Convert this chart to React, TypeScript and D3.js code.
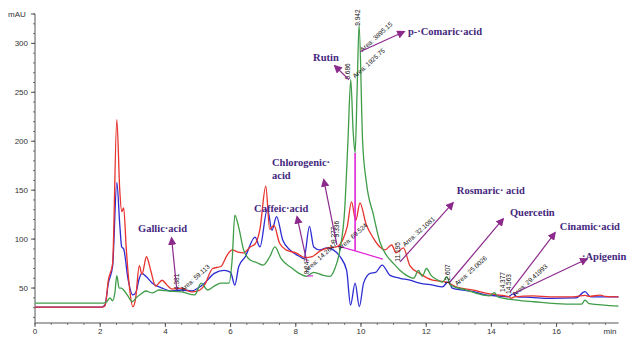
import React from 'react';
import * as d3 from 'd3';

// chromatogram traces, [time (min), signal (mAU)]
const redTrace: [number, number][] = [
  [0, 30.5], [2.05, 30.5], [2.15, 32], [2.25, 58], [2.38, 75], [2.51, 222], [2.6, 150], [2.66, 128],
  [2.72, 132], [2.8, 90], [2.9, 50], [3.0, 31], [3.08, 38], [3.2, 73], [3.28, 64], [3.42, 82],
  [3.55, 68], [3.7, 52], [3.9, 58], [4.05, 53], [4.2, 49], [4.5, 50], [4.8, 46], [5.0, 47],
  [5.2, 53], [5.45, 70], [5.7, 72], [5.9, 84], [6.05, 89], [6.2, 87], [6.4, 86], [6.6, 92],
  [6.75, 95], [6.9, 110], [7.08, 154], [7.2, 110], [7.33, 114], [7.5, 96], [7.7, 89], [8.0, 86],
  [8.3, 81], [8.5, 82], [8.75, 88], [9.0, 91], [9.25, 92], [9.45, 100], [9.58, 113], [9.71, 138],
  [9.84, 119], [9.97, 137], [10.15, 116], [10.38, 101], [10.58, 92], [10.74, 89], [10.94, 94],
  [11.08, 86], [11.3, 91], [11.5, 73], [11.8, 65], [12.2, 58], [12.63, 56], [12.94, 51],
  [13.45, 48], [13.86, 44.6], [14.26, 42.8], [14.55, 41], [14.62, 39.5], [14.7, 41], [15.28, 42],
  [15.8, 41], [16.5, 41], [16.87, 42.5], [17.0, 41.5], [17.33, 42.8], [17.5, 41.5], [17.9, 41],
];

const blueTrace: [number, number][] = [
  [0, 30.5], [2.05, 30.5], [2.15, 33], [2.25, 55], [2.38, 72], [2.51, 158], [2.6, 115], [2.66, 92],
  [2.72, 90], [2.85, 60], [3.0, 43], [3.1, 46], [3.2, 60], [3.28, 65], [3.4, 62], [3.6, 55],
  [3.9, 50], [4.2, 47], [4.5, 48], [4.8, 47], [5.0, 50], [5.2, 55], [5.5, 65], [5.8, 68],
  [6.0, 66], [6.13, 53], [6.25, 72], [6.45, 82], [6.75, 102], [6.9, 92], [7.13, 131], [7.27, 109],
  [7.41, 123], [7.6, 99], [7.82, 89], [8.13, 82], [8.25, 80], [8.42, 113], [8.55, 92], [8.74, 89],
  [8.95, 91], [9.15, 89], [9.36, 82], [9.56, 68], [9.68, 32.6], [9.82, 55], [9.95, 31], [10.08, 55],
  [10.28, 65], [10.45, 66], [10.65, 73.5], [10.89, 63], [11.2, 60], [11.5, 58], [11.8, 55],
  [12.2, 53], [12.5, 51.3], [12.68, 56.5], [12.8, 50], [13.45, 46.3], [13.86, 42.8], [14.26, 41.8],
  [14.5, 41], [14.67, 44], [14.8, 41], [15.2, 40.5], [15.8, 39.5], [16.6, 40], [16.87, 46.3],
  [17.05, 41], [17.9, 41],
];

const greenTrace: [number, number][] = [
  [0, 34.7], [2.1, 34.7], [2.2, 36], [2.3, 40], [2.38, 37], [2.45, 45], [2.51, 62.6], [2.58, 50],
  [2.65, 50], [2.72, 48], [2.85, 42], [2.98, 36], [3.1, 40], [3.25, 44], [3.4, 47], [3.6, 45],
  [3.8, 48], [4.1, 47], [4.5, 46], [4.9, 43], [5.1, 55], [5.3, 48], [5.5, 52], [5.7, 55],
  [5.95, 55], [6.05, 80], [6.13, 124.6], [6.25, 112], [6.4, 89], [6.6, 78.6], [6.8, 76], [7.0, 73.5],
  [7.2, 82], [7.36, 92], [7.55, 80], [7.9, 70], [8.1, 65], [8.33, 62], [8.55, 66], [8.84, 63],
  [9.05, 62], [9.2, 70], [9.36, 90], [9.5, 130], [9.6, 200], [9.686, 263], [9.76, 210], [9.82, 188],
  [9.88, 250], [9.942, 319], [10.05, 200], [10.17, 157], [10.38, 125], [10.58, 97], [10.79, 83],
  [11.0, 75], [11.2, 68], [11.45, 62], [11.62, 60], [11.76, 68], [11.88, 62], [12.01, 70],
  [12.15, 63], [12.37, 58], [12.5, 56], [12.63, 61.6], [12.75, 53], [13.24, 48], [13.75, 42.8],
  [13.95, 42], [14.09, 45.3], [14.2, 41], [14.78, 37.7], [15.3, 36], [16.3, 33.6], [16.77, 33.6],
  [16.87, 37.7], [17.0, 34], [17.9, 31.6],
];

// integration baseline + drop line (magenta)
const baseLine: [number, number][] = [[9.29, 93], [9.82, 88], [10.67, 79.6]];
const dropLine: [number, number][] = [[9.82, 88], [9.82, 188]];
const caffeicBase: [number, number][] = [[8.34, 62.4], [8.53, 62.4]];

// compound annotations
const compoundNames = [
  ['Gallic·acid'], ['Caffeic·acid'], ['Chlorogenic·', 'acid'], ['Rutin'], ['p-·Comaric·acid'],
  ['Rosmaric· acid'], ['Quercetin'], ['Cinamic·acid'], ['·Apigenin'],
];
const namePos: [number, number][] = [
  [3.16, 107], [6.72, 127.5], [7.27, 174.5], [8.53, 282], [11.44, 308.5],
  [12.94, 146], [14.57, 123.5], [16.1, 109], [16.78, 78.5],
];
const arrowFrom: [number, number][] = [
  [4.35, 48], [8.34, 76.7], [9.26, 94], [9.63, 262.8], [9.97, 291.4],
  [11.2, 76.7], [12.73, 56.2], [14.57, 46], [14.66, 44],
];
const arrowTo: [number, number][] = [
  [4.19, 101], [8.04, 122.7], [8.86, 160.5], [9.2, 277], [11.32, 311.8],
  [12.82, 137], [14.36, 120.6], [15.95, 106.3], [16.93, 79.7],
];

// retention time labels (vertical) and area labels (slanted)
const rtLabels = ['4.381', '8.247', '9.277', '9.336', '9.686', '9.942', '11.195', '12.607', '14.377', '14.563'];
const rtPos: [number, number][] = [
  [4.42, 48], [8.4, 64], [9.24, 96], [9.34, 102], [9.66, 263], [9.97, 318],
  [11.2, 77], [12.73, 54], [14.42, 46], [14.6, 44],
];
const areaLabels = ['Area: 59.113', 'Area: 14.2647', 'Area: 69.524', 'Area: 1925.75', 'Area: 3895.15',
  'Area: 32.1081', 'Area: 25.0026', 'Area: 29.41993'];
const areaPos: [number, number][] = [
  [4.54, 46], [8.34, 66], [9.36, 88], [9.82, 264], [10.05, 291],
  [11.35, 92], [12.95, 52], [14.72, 41],
];

const xMajor = [0, 2, 4, 6, 8, 10, 12, 14, 16];
const yMajor = [50, 100, 150, 200, 250, 300];

const RED = '#e8332e';
const BLUE = '#2c2cd4';
const GREEN = '#3f9d48';
const MAGENTA = '#e024d8';
const NAME = '#45287e';
const ARROW = '#8c2a8c';

export default function App() {
  const x = d3.scaleLinear().domain([0, 17.9]).range([35, 618.5]);
  const y = d3.scaleLinear().domain([14.3, 330]).range([323, 14]);

  const trace = d3.line<[number, number]>()
    .x(d => x(d[0]))
    .y(d => y(d[1]))
    .curve(d3.curveMonotoneX);
  const straight = d3.line<[number, number]>().x(d => x(d[0])).y(d => y(d[1]));

  const xMinor = d3.range(0, 17.9, 0.5);
  const yMinor = d3.range(20, 331, 10);

  return (
    <svg width={638} height={337} style={{ position: 'absolute', left: 0, top: 0, background: '#fff' }}
      fontFamily="Liberation Sans, Arial, sans-serif">
      <defs>
        <marker id="head" viewBox="0 0 10 10" refX="8" refY="5" markerWidth="7" markerHeight="7" orient="auto">
          <path d="M0,0 L10,5 L0,10 z" fill={ARROW} />
        </marker>
      </defs>

      {/* axes */}
      <line x1={x(0)} x2={x(0)} y1={y(330)} y2={y(14.3)} stroke="#555" strokeWidth={1} />
      <line x1={x(0)} x2={x(17.9)} y1={y(14.3)} y2={y(14.3)} stroke="#555" strokeWidth={1} />
      {yMinor.map(v => (
        <line key={'ym' + v} x1={x(0) - 2} x2={x(0)} y1={y(v)} y2={y(v)} stroke="#555" strokeWidth={0.8} />
      ))}
      {yMajor.map(v => (
        <g key={'y' + v}>
          <line x1={x(0) - 4} x2={x(0)} y1={y(v)} y2={y(v)} stroke="#555" />
          <text x={28} y={y(v) + 3} fontSize={8} textAnchor="end" fill="#333">{v}</text>
        </g>
      ))}
      <line x1={x(0) - 4} x2={x(0)} y1={y(330)} y2={y(330)} stroke="#555" />
      <text x={8} y={y(330) + 3} fontSize={8} fill="#333">mAU</text>
      {xMinor.map(t => (
        <line key={'xm' + t} x1={x(t)} x2={x(t)} y1={y(14.3)} y2={y(14.3) + 2} stroke="#555" strokeWidth={0.8} />
      ))}
      {xMajor.map(t => (
        <g key={'x' + t}>
          <line x1={x(t)} x2={x(t)} y1={y(14.3)} y2={y(14.3) + 4} stroke="#555" />
          <text x={x(t)} y={334} fontSize={8} textAnchor="middle" fill="#333">{t}</text>
        </g>
      ))}
      <text x={610} y={334} fontSize={8} textAnchor="middle" fill="#333">min</text>

      {/* traces */}
      <path d={trace(blueTrace) ?? ''} fill="none" stroke={BLUE} strokeWidth={1.3} />
      <path d={trace(redTrace) ?? ''} fill="none" stroke={RED} strokeWidth={1.3} />
      <path d={trace(greenTrace) ?? ''} fill="none" stroke={GREEN} strokeWidth={1.3} />

      {/* integration marks */}
      <path d={straight(baseLine) ?? ''} fill="none" stroke={MAGENTA} strokeWidth={1.2} />
      <path d={straight(dropLine) ?? ''} fill="none" stroke={MAGENTA} strokeWidth={1.6} />
      <path d={straight(caffeicBase) ?? ''} fill="none" stroke={MAGENTA} strokeWidth={1.2} />

      {/* peak labels */}
      {rtLabels.map((s, i) => (
        <text key={'rt' + i} transform={`translate(${x(rtPos[i][0])},${y(rtPos[i][1])}) rotate(-90)`}
          fontSize={6.5} fill="#111">{s}</text>
      ))}
      {areaLabels.map((s, i) => (
        <text key={'ar' + i} transform={`translate(${x(areaPos[i][0])},${y(areaPos[i][1])}) rotate(-42)`}
          fontSize={6.5} fill="#111">{s}</text>
      ))}

      {/* compound arrows and names */}
      {arrowFrom.map((p, i) => (
        <line key={'ar' + i} x1={x(p[0])} y1={y(p[1])} x2={x(arrowTo[i][0])} y2={y(arrowTo[i][1])}
          stroke={ARROW} strokeWidth={1.2} markerEnd="url(#head)" />
      ))}
      {compoundNames.map((lines, i) => (
        <text key={'n' + i} x={x(namePos[i][0])} y={y(namePos[i][1])} fontFamily="Liberation Serif, serif"
          fontWeight="bold" fontSize={10.5} fill={NAME}>
          {lines.map((l, j) => (
            <tspan key={j} x={x(namePos[i][0])} dy={j === 0 ? 0 : 13}>{l}</tspan>
          ))}
        </text>
      ))}
    </svg>
  );
}
